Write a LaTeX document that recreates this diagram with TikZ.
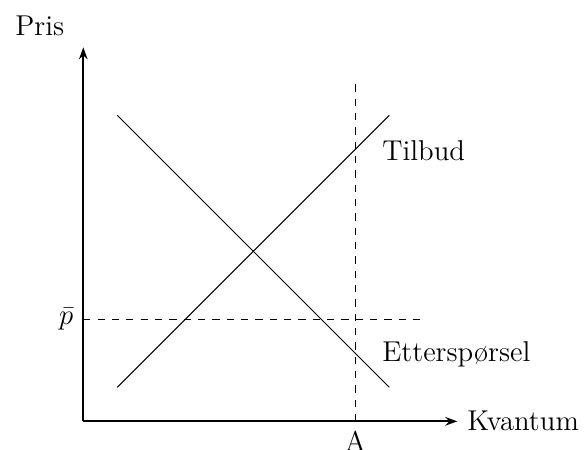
\documentclass[tikz,border=0pt,12pt]{standalone}
\usetikzlibrary{arrows.meta}
\begin{document}
\begin{tikzpicture}
\tikzset{axis/.style={thick,-{Stealth[length=5pt,width=3.6pt]}},curve/.style={thin},guide/.style={dashed},lbl/.style={inner sep=0pt}}
\useasboundingbox (-1.225,-0.407) rectangle (7.407,6.196);
\coordinate (O) at (0,0);
\coordinate (xend) at (5.5,0);
\coordinate (yend) at (0,5.5);
\coordinate (s1) at (0.5,0.5);
\coordinate (s2) at (4.5,4.5);
\coordinate (d1) at (0.5,4.5);
\coordinate (d2) at (4.5,0.5);
\coordinate (h1) at (0,1.5);
\coordinate (h2) at (5,1.5);
\coordinate (v1) at (4,0);
\coordinate (v2) at (4,5);
\draw[axis] (O) -- (xend);
\draw[axis] (O) -- (yend);
\draw[curve] (s1) -- (s2);
\draw[curve] (d1) -- (d2);
\draw[guide] (h1) -- (h2);
\draw[guide] (v1) -- (v2);
\node[right] (kv) at (xend) {Kvantum};
\node[anchor=base] (pris) at (-0.64,5.68) {Pris};
\node[left] (pbar) at (h1) {$\bar{p}$};
\node[below] (A) at (v1) {A};
\node[anchor=base west,lbl] (tilbud) at (4.39,3.84) {Tilbud};
\node[anchor=base west,lbl] (ett) at (4.39,0.88) {Etterspørsel};
\end{tikzpicture}
\end{document}
